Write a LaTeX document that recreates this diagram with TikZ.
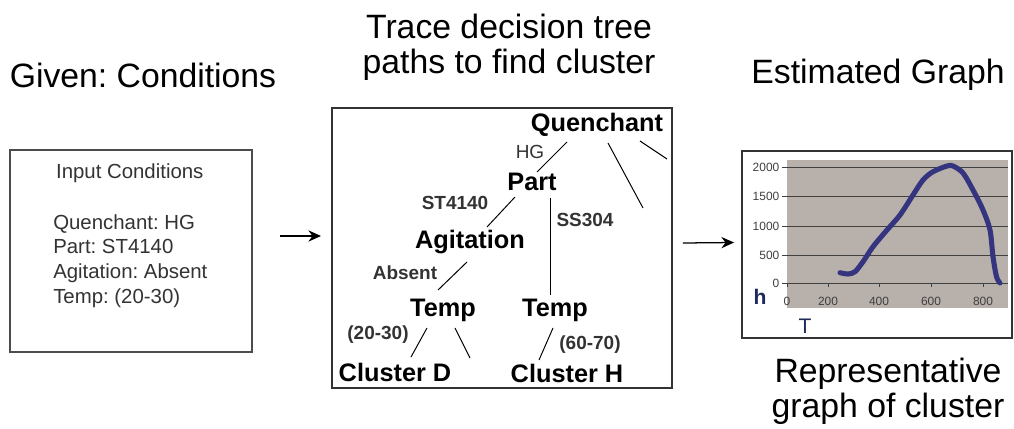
\documentclass[tikz,border=0pt]{standalone}
\usepackage{fontspec}
\setmainfont{Liberation Sans}
\usetikzlibrary{calc, arrows.meta}
\frenchspacing
\definecolor{plotgray}{HTML}{B8B0AB}
\definecolor{curveblue}{HTML}{34347F}
\definecolor{axisnavy}{HTML}{1F2A5A}
\tikzset{
    heading/.style={font=\fontsize{24}{25}\selectfont, align=center, inner sep=0pt},
    treenode/.style={font=\fontsize{18}{20}\selectfont\bfseries, inner sep=0pt},
    branch/.style={font=\fontsize{13.5}{15}\selectfont\bfseries, text=black!80, inner sep=0pt},
    panel/.style={draw=black!80, line width=1.3pt, inner sep=0pt},
    ticklabel/.style={font=\fontsize{8.5}{9}\selectfont, text=black!75, inner sep=1pt},
    treeline/.style={line width=0.7pt},
}

\begin{document}
\begin{tikzpicture}[x=0.025cm, y=-0.025cm]
            \useasboundingbox[fill=white] (0,0) rectangle (1014,428);
            % headings
            \node[heading] (given) at (143,75) {Given: Conditions};
            \node[heading] (trace) at (509,47) {Trace decision tree\\paths to find cluster};
            \node[heading] (estim) at (878,75) {Estimated Graph};
            \node[heading] (repr) at (888,391) {Representative\\graph of cluster};
            % the three panels
            \node[panel, draw=black!70, line width=1.6pt, minimum width=6.05cm, minimum height=5.05cm] (input) at (131,251) {};
            \node[panel, minimum width=8.5cm, minimum height=7cm] (treebox) at (502,248) {};
            \node[panel, minimum width=6.75cm, minimum height=4.675cm] (graph) at (877,244.5) {};
            \draw[-{Stealth[length=9pt,width=8pt]}, line width=0.9pt] ($(input.east)+(27,-15)$)--($(treebox.west)+(-10,-12)$);
            \draw[-{Stealth[length=9pt,width=8pt]}, line width=0.9pt] ($(treebox.east)+(10,-5)$)--($(graph.west)+(-7,-2)$);
            % input conditions
            \node[font=\fontsize{14.5}{17.5}\selectfont, text=black!80, align=left, anchor=north west, inner sep=0pt] (cond) at (53,163)
                {\hspace*{2pt}Input Conditions\\[19pt]Quenchant: HG\\Part: ST4140\\Agitation: Absent\\Temp: (20-30)};
            % decision tree
            \node[treenode] (quen) at (597,125) {Quenchant};
            \node[treenode] (part) at (532,182) {Part};
            \node[treenode] (agit) at (470,242) {Agitation};
            \node[treenode] (tempa) at (443,310) {Temp};
            \node[treenode] (tempb) at (555,310) {Temp};
            \node[treenode] (clusd) at (395,372) {Cluster D};
            \node[treenode] (clush) at (567,373) {Cluster H};
            \node[branch, font=\fontsize{13.5}{15}\selectfont] (hg) at (530,152) {HG};
            \node[branch] (st) at (455,203) {ST4140};
            \node[branch] (ss) at (585,220) {SS304};
            \node[branch] (absent) at (405,273) {Absent};
            \node[branch] (lowt) at (378,335) {(20-30)};
            \node[branch] (hight) at (590,345) {(60-70)};
            \coordinate (qmid) at (643,208);
            \coordinate (qright) at (667,159);
            \coordinate (tfree) at (470,358);
            \draw[treeline] ($(quen)+(-30,17)$)--($(part)+(5,-10)$);
            \draw[treeline] ($(quen)+(11,18)$)--(qmid);
            \draw[treeline] ($(quen)+(43,16)$)--(qright);
            \draw[treeline] ($(part)+(-17,15)$)--($(agit)+(17,-15)$);
            \draw[treeline] ($(part)+(18,16)$)--($(tempb)+(-5,-15)$);
            \draw[treeline] ($(agit)+(-3,20)$)--($(tempa)+(-5,-20)$);
            \draw[treeline] ($(tempa)+(-16,18)$)--($(clusd)+(16,-15)$);
            \draw[treeline] ($(tempa)+(12,18)$)--(tfree);
            \draw[treeline] ($(tempb)+(-2,18)$)--($(clush)+(-28,-13)$);
            % estimated graph
            \fill[plotgray] (787,160) rectangle (1008,308);
            \foreach \v/\y in {0/283,500/255,1000/226,1500/196,2000/167}{
                \draw[black!75, line width=0.7pt] (782,\y)--(1008,\y);
                \node[ticklabel, anchor=east] at (781,\y) {\v};
            }
            \foreach \t/\x in {0/787,200/828,400/879,600/931,800/983}{
                \draw[black!75, line width=0.7pt] (\x,283)--(\x,287);
                \node[ticklabel] at (\x,301) {\t};
            }
            \draw[curveblue, line width=3.6pt, line cap=round, line join=round] plot[smooth] coordinates {
                (840,272.7) (848,274) (855,271.7) (863,261.7) (873,246.7) (887,230) (900,215)
                (913,195) (923,180) (933,171.7) (947,166) (953,166) (963,173) (973,190)
                (983,210) (990,230) (993,256.7) (996.5,276.7) (1000,283)};
            \node[font=\fontsize{15}{15}\selectfont\bfseries, text=axisnavy, inner sep=0pt] (hlab) at (760,297) {h};
            \node[font=\fontsize{15}{15}\selectfont, text=axisnavy, inner sep=0pt] (tlab) at (805,326) {T};
\end{tikzpicture}
\end{document}
